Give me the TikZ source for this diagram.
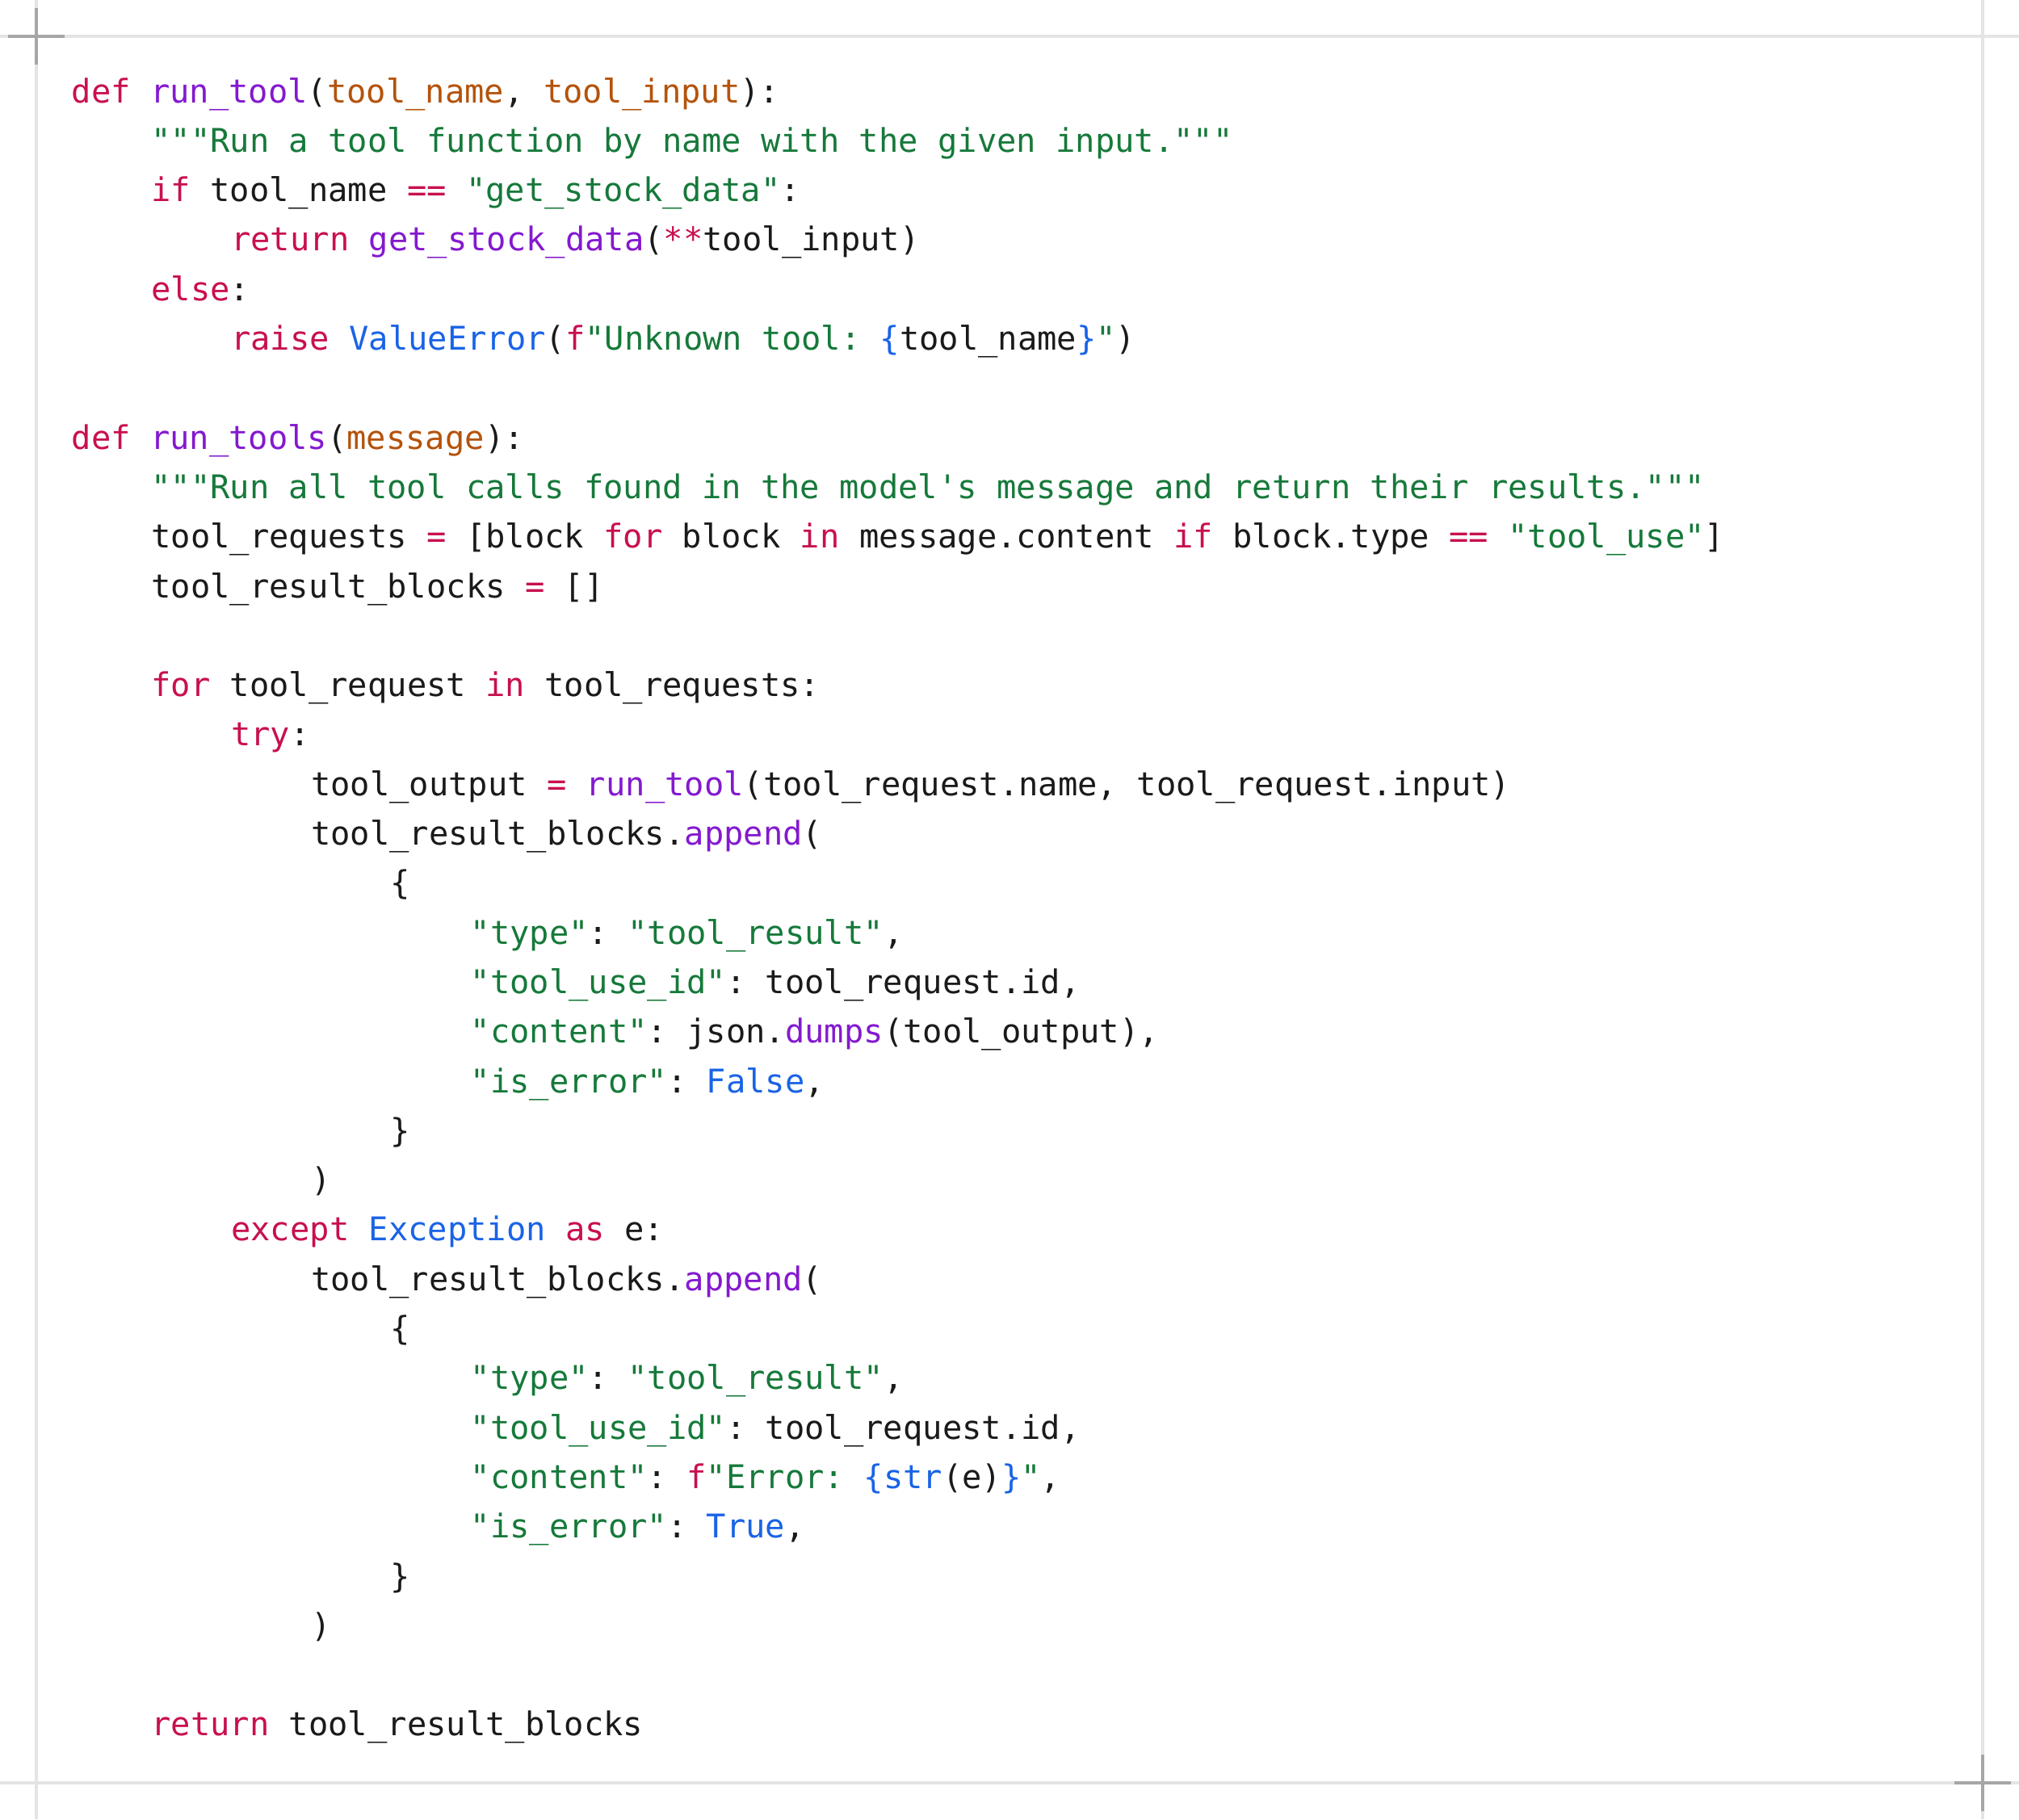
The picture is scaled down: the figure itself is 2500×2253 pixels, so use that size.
\documentclass[tikz,border=0pt]{standalone}
\usepackage{fontspec}
\setmonofont{DejaVu Sans Mono}
\definecolor{kw}{HTML}{C8104F}
\definecolor{fn}{HTML}{8419CF}
\definecolor{pa}{HTML}{B4530C}
\definecolor{st}{HTML}{16793A}
\definecolor{bl}{HTML}{1A63E6}
\definecolor{tx}{HTML}{1A1A1A}
\definecolor{frame}{HTML}{E4E4E4}
\newcommand\cK[1]{\textcolor{kw}{#1}}
\newcommand\cF[1]{\textcolor{fn}{#1}}
\newcommand\cP[1]{\textcolor{pa}{#1}}
\newcommand\cS[1]{\textcolor{st}{#1}}
\newcommand\cB[1]{\textcolor{bl}{#1}}
\begin{document}
\begin{tikzpicture}[x=0.01cm,y=-0.01cm,
  code/.style={anchor=base west,inner sep=0pt,text=tx,font=\ttfamily\fontsize{11.5}{14}\selectfont}]
\useasboundingbox (0,0) rectangle (2500,2253);
\draw[frame,line width=1.2pt] (0,45) -- (2500,45) (0,2208) -- (2500,2208)
  (45,0) -- (45,2253) (2455,0) -- (2455,2253);
\draw[gray!70,line width=1pt] (10,45) -- (80,45) (45,10) -- (45,80)
  (2420,2208) -- (2490,2208) (2455,2173) -- (2455,2243);
\def\lh{61.3}
\def\cw{98.8}
\newcommand\codeln[4]{\node[code] (#1) at (88+#2*\cw,127+#3*\lh) {#4};}
\codeln{l0}{0}{0}{\cK{def} \cF{run\_tool}(\cP{tool\_name}, \cP{tool\_input}):}
\codeln{l1}{1}{1}{\cS{"""Run a tool function by name with the given input."""}}
\codeln{l2}{1}{2}{\cK{if} tool\_name \cK{==} \cS{"get\_stock\_data"}:}
\codeln{l3}{2}{3}{\cK{return} \cF{get\_stock\_data}(\cK{**}tool\_input)}
\codeln{l4}{1}{4}{\cK{else}:}
\codeln{l5}{2}{5}{\cK{raise} \cB{ValueError}(\cK{f}\cS{"Unknown tool: }\cB{\{}tool\_name\cB{\}}\cS{"})}
\codeln{l7}{0}{7}{\cK{def} \cF{run\_tools}(\cP{message}):}
\codeln{l8}{1}{8}{\cS{"""Run all tool calls found in the model's message and return their results."""}}
\codeln{l9}{1}{9}{tool\_requests \cK{=} [block \cK{for} block \cK{in} message.content \cK{if} block.type \cK{==} \cS{"tool\_use"}]}
\codeln{l10}{1}{10}{tool\_result\_blocks \cK{=} []}
\codeln{l12}{1}{12}{\cK{for} tool\_request \cK{in} tool\_requests:}
\codeln{l13}{2}{13}{\cK{try}:}
\codeln{l14}{3}{14}{tool\_output \cK{=} \cF{run\_tool}(tool\_request.name, tool\_request.input)}
\codeln{l15}{3}{15}{tool\_result\_blocks.\cF{append}(}
\codeln{l16}{4}{16}{\{}
\codeln{l17}{5}{17}{\cS{"type"}: \cS{"tool\_result"},}
\codeln{l18}{5}{18}{\cS{"tool\_use\_id"}: tool\_request.id,}
\codeln{l19}{5}{19}{\cS{"content"}: json.\cF{dumps}(tool\_output),}
\codeln{l20}{5}{20}{\cS{"is\_error"}: \cB{False},}
\codeln{l21}{4}{21}{\}}
\codeln{l22}{3}{22}{)}
\codeln{l23}{2}{23}{\cK{except} \cB{Exception} \cK{as} e:}
\codeln{l24}{3}{24}{tool\_result\_blocks.\cF{append}(}
\codeln{l25}{4}{25}{\{}
\codeln{l26}{5}{26}{\cS{"type"}: \cS{"tool\_result"},}
\codeln{l27}{5}{27}{\cS{"tool\_use\_id"}: tool\_request.id,}
\codeln{l28}{5}{28}{\cS{"content"}: \cK{f}\cS{"Error: }\cB{\{str}(e)\cB{\}}\cS{"},}
\codeln{l29}{5}{29}{\cS{"is\_error"}: \cB{True},}
\codeln{l30}{4}{30}{\}}
\codeln{l31}{3}{31}{)}
\codeln{l33}{1}{33}{\cK{return} tool\_result\_blocks}
\end{tikzpicture}
\end{document}
